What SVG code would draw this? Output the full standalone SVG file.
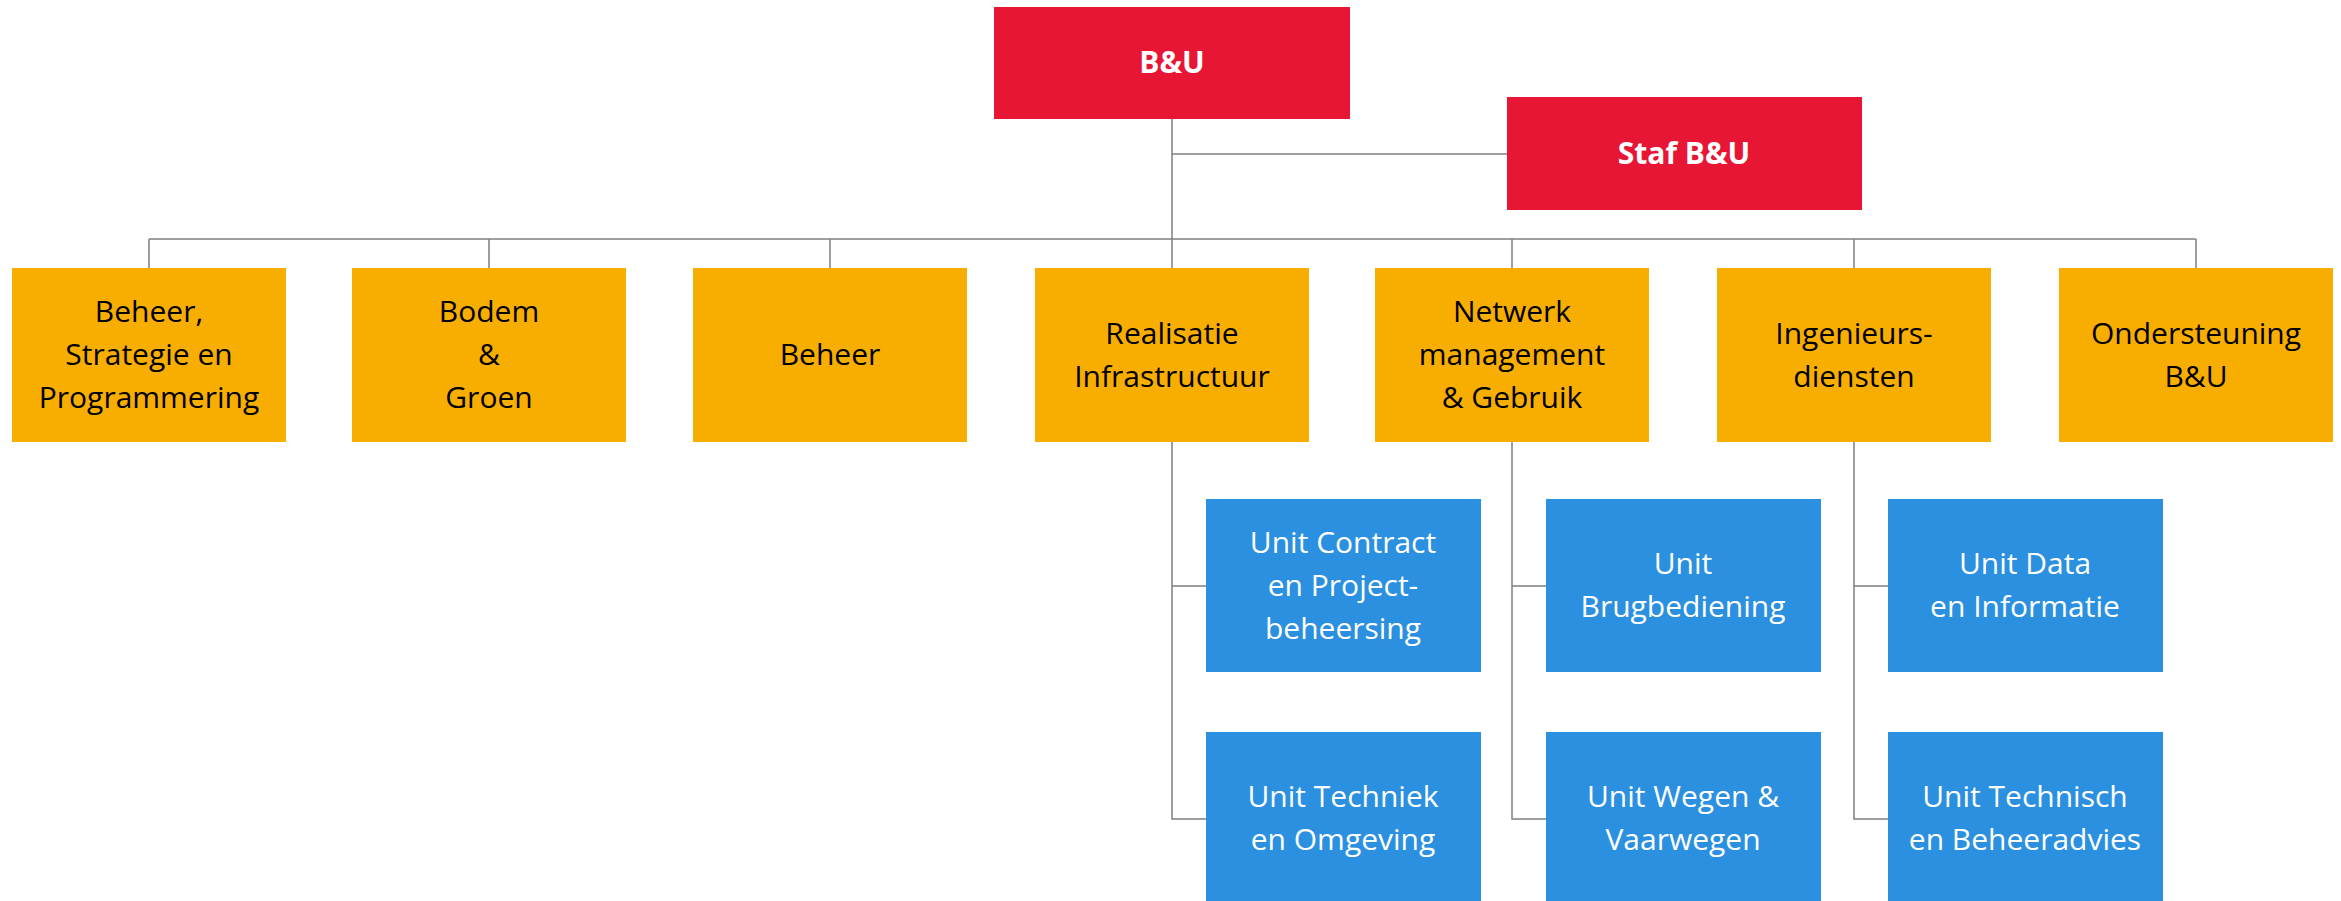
<svg xmlns="http://www.w3.org/2000/svg" width="2341" height="901" viewBox="0 0 2341 901">
<style>
.red{fill:#E81635}
.org{fill:#F8AE00}
.blu{fill:#2B90E0}
.t{font-family:"Open Sans","Noto Sans","Liberation Sans",sans-serif;font-size:30px;text-anchor:middle}
.tb{font-weight:bold;fill:#ffffff}
.tk{fill:#000000}
.tw{fill:#ffffff}
.c{stroke:#7f7f7f;stroke-width:1.5;fill:none}
</style>
<rect width="2341" height="901" fill="#ffffff"/>
<g id="connectors" class="c">
<path d="M1172 118V268"/>
<path d="M1172 154H1507"/>
<path d="M149 239H2196"/>
<path d="M149 239V268M489 239V268M830 239V268M1512 239V268M1854 239V268M2196 239V268"/>
<path d="M1172 442V819H1206M1172 586H1206"/>
<path d="M1512 442V819H1546M1512 586H1546"/>
<path d="M1854 442V819H1888M1854 586H1888"/>
</g>
<g id="n-bu"><rect class="red" x="994" y="7" width="356" height="112"/><text class="t tb" x="1172" y="73">B&amp;U</text></g>
<g id="n-staf"><rect class="red" x="1507" y="97" width="355" height="113"/><text class="t tb" x="1684" y="164">Staf B&amp;U</text></g>
<g id="n-bsp"><rect class="org" x="12" y="268" width="274" height="174"/><text class="t tk" x="149"><tspan x="149" y="322">Beheer,</tspan><tspan x="149" y="365">Strategie en</tspan><tspan x="149" y="408">Programmering</tspan></text></g>
<g id="n-bodem"><rect class="org" x="352" y="268" width="274" height="174"/><text class="t tk" x="489"><tspan x="489" y="322">Bodem</tspan><tspan x="489" y="365">&amp;</tspan><tspan x="489" y="408">Groen</tspan></text></g>
<g id="n-beheer"><rect class="org" x="693" y="268" width="274" height="174"/><text class="t tk" x="830" y="365">Beheer</text></g>
<g id="n-real"><rect class="org" x="1035" y="268" width="274" height="174"/><text class="t tk" x="1172"><tspan x="1172" y="344">Realisatie</tspan><tspan x="1172" y="387">Infrastructuur</tspan></text></g>
<g id="n-netwerk"><rect class="org" x="1375" y="268" width="274" height="174"/><text class="t tk" x="1512"><tspan x="1512" y="322">Netwerk</tspan><tspan x="1512" y="365">management</tspan><tspan x="1512" y="408">&amp; Gebruik</tspan></text></g>
<g id="n-ing"><rect class="org" x="1717" y="268" width="274" height="174"/><text class="t tk" x="1854"><tspan x="1854" y="344">Ingenieurs-</tspan><tspan x="1854" y="387">diensten</tspan></text></g>
<g id="n-onder"><rect class="org" x="2059" y="268" width="274" height="174"/><text class="t tk" x="2196"><tspan x="2196" y="344">Ondersteuning</tspan><tspan x="2196" y="387">B&amp;U</tspan></text></g>
<g id="n-ucp"><rect class="blu" x="1206" y="499" width="275" height="173"/><text class="t tw" x="1343"><tspan x="1343" y="553">Unit Contract</tspan><tspan x="1343" y="596">en Project-</tspan><tspan x="1343" y="639">beheersing</tspan></text></g>
<g id="n-ute"><rect class="blu" x="1206" y="732" width="275" height="173"/><text class="t tw" x="1343"><tspan x="1343" y="807">Unit Techniek</tspan><tspan x="1343" y="850">en Omgeving</tspan></text></g>
<g id="n-ubrug"><rect class="blu" x="1546" y="499" width="275" height="173"/><text class="t tw" x="1683"><tspan x="1683" y="574">Unit</tspan><tspan x="1683" y="617">Brugbediening</tspan></text></g>
<g id="n-uwegen"><rect class="blu" x="1546" y="732" width="275" height="173"/><text class="t tw" x="1683"><tspan x="1683" y="807">Unit Wegen &amp;</tspan><tspan x="1683" y="850">Vaarwegen</tspan></text></g>
<g id="n-udata"><rect class="blu" x="1888" y="499" width="275" height="173"/><text class="t tw" x="2025"><tspan x="2025" y="574">Unit Data</tspan><tspan x="2025" y="617">en Informatie</tspan></text></g>
<g id="n-utech"><rect class="blu" x="1888" y="732" width="275" height="173"/><text class="t tw" x="2025"><tspan x="2025" y="807">Unit Technisch</tspan><tspan x="2025" y="850">en Beheeradvies</tspan></text></g>
</svg>
